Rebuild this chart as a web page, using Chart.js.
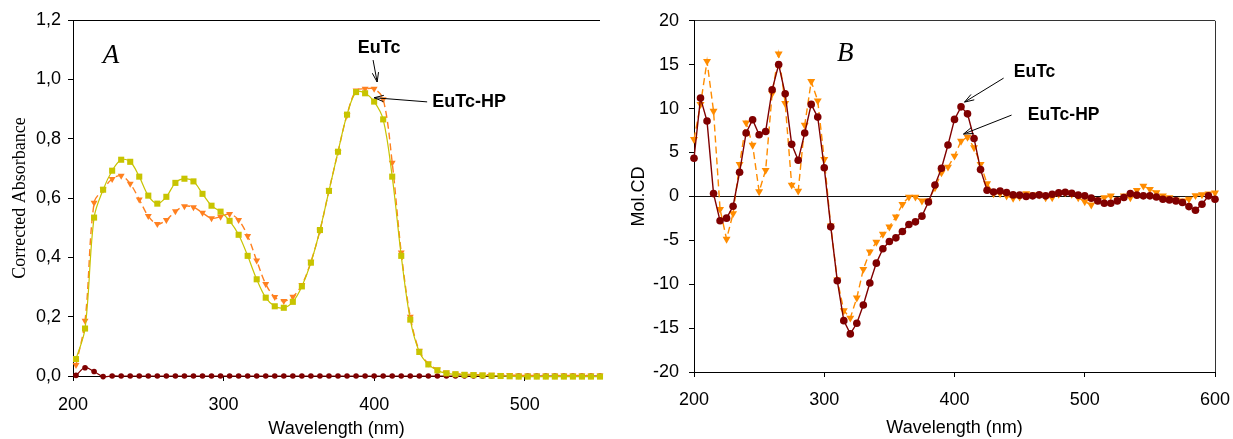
<!DOCTYPE html>
<html><head><meta charset="utf-8">
<script src="https://cdn.jsdelivr.net/npm/chart.js@4.4.1/dist/chart.umd.min.js"></script>
<style>
html,body{margin:0;padding:0;background:#fff;overflow:hidden}
#wrap{position:relative;width:1233px;height:439px;background:#fff}
canvas{position:absolute;top:0}
</style></head><body>
<div id="wrap">
<canvas id="cA" width="615" height="439" style="left:0"></canvas>
<canvas id="cB" width="618" height="439" style="left:615px"></canvas>
</div>
<script>
// ---------- Panel A : absorbance ----------
const wavelengthA = [202,208,214,220,226,232,238,244,250,256,262,268,274,280,286,292,298,304,310,316,322,328,334,340,346,352,358,364,370,376,382,388,394,400,406,412,418,424,430,436,442,448,454,460,466,472,478,484,490,496,502,508,514,520,526,532,538,544,550];
const absEuTcHP = [0.057,0.160,0.534,0.628,0.692,0.729,0.722,0.672,0.608,0.581,0.604,0.651,0.665,0.656,0.614,0.574,0.554,0.523,0.476,0.405,0.326,0.264,0.235,0.230,0.250,0.302,0.382,0.492,0.624,0.756,0.881,0.957,0.953,0.925,0.865,0.672,0.405,0.190,0.081,0.039,0.019,0.009,0.006,0.004,0.003,0.002,0.001,0.000,-0.001,-0.002,-0.002,-0.002,-0.002,-0.002,-0.002,-0.002,-0.002,-0.002,-0.002];
const absEuTc = [0.037,0.186,0.584,0.629,0.664,0.675,0.648,0.595,0.539,0.512,0.526,0.555,0.572,0.569,0.550,0.532,0.537,0.546,0.526,0.472,0.389,0.310,0.266,0.253,0.267,0.307,0.385,0.490,0.625,0.755,0.880,0.962,0.968,0.968,0.933,0.719,0.416,0.200,0.085,0.042,0.022,0.012,0.008,0.006,0.005,0.004,0.004,0.003,0.003,0.002,0.002,0.002,0.002,0.002,0.002,0.002,0.002,0.002,0.002];
const absBlank = [0.002,0.028,0.015,-0.002,0,0,0,0,0,0,0,0,0,0,0,0,0,0,0,0,0,0,0,0,0,0,0,0,0,0,0,0,0,0,0,0,0,0,0,0,0,0,0,0,0,0,0,0,0,0,0,0,0,0,0,0,0,0,0];
const xRangeA = [200, 550], xStepA = 100;
const yRangeA = [0, 1.2], yStepA = 0.2;

// ---------- Panel B : molar CD ----------
const wavelengthB = [200,205,210,215,220,225,230,235,240,245,250,255,260,265,270,275,280,285,290,295,300,305,310,315,320,325,330,335,340,345,350,355,360,365,370,375,380,385,390,395,400,405,410,415,420,425,430,435,440,445,450,455,460,465,470,475,480,485,490,495,500,505,510,515,520,525,530,535,540,545,550,555,560,565,570,575,580,585,590,595,600];
const cdEuTc = [4.34,11.2,8.58,0.32,-2.78,-2.48,-1.12,2.75,7.22,8.73,7.02,7.4,12.14,15.02,11.68,5.93,4.11,7.22,10.48,9.03,3.27,-3.47,-9.6,-14.15,-15.66,-14.45,-12.37,-9.87,-7.6,-5.97,-5.13,-4.72,-4.0,-3.2,-2.9,-2.25,-0.63,1.3,3.2,5.85,8.77,10.2,9.4,6.6,3.05,0.7,0.5,0.62,0.43,0.17,0.14,0.0,0.06,0.17,0.06,0.25,0.4,0.47,0.36,0.14,0.06,-0.2,-0.51,-0.78,-0.78,-0.51,-0.13,0.32,0.14,0.06,0.06,-0.06,-0.32,-0.4,-0.51,-0.7,-1.16,-1.57,-0.89,0.06,-0.32];
const cdEuTcHP = [6.5,10.48,15.4,9.72,-1.46,-4.86,-1.95,3.66,8.39,5.85,0.55,2.98,11.72,16.23,10.6,1.3,0.62,8.12,13.1,10.9,4.22,-3.35,-9.5,-13.0,-13.85,-11.55,-8.3,-6.3,-5.2,-4.3,-3.47,-2.33,-0.89,-0.06,-0.06,-0.51,-0.5,1.0,2.7,3.35,4.6,6.3,6.76,5.55,3.66,1.45,0.32,0.32,0.06,-0.2,-0.06,0.32,0.17,0.17,-0.13,-0.13,0.25,0.43,0.25,-0.13,-0.59,-0.97,-0.4,-0.13,0.06,-0.4,0.06,-0.13,0.7,1.19,0.82,0.43,0.06,-0.13,-0.4,-0.5,-0.3,0.1,0.2,0.3,0.4];
const xRangeB = [200, 600], xStepB = 100;
const yRangeB = [-20, 20], yStepB = 5;

// ---------- annotations (data coordinates) ----------
const notesA = {
  texts: [
    {t:'A', x:225.2, y:1.079, font:'italic 27px "Liberation Serif"'},
    {t:'EuTc', x:403.3, y:1.105, font:'bold 18px "Liberation Sans"'},
    {t:'EuTc-HP', x:463.1, y:0.923, font:'bold 18px "Liberation Sans"'}
  ],
  arrows: [
    [399.3,1.065,402.0,0.991],
    [435.2,0.924,400.0,0.938]
  ]
};
const notesB = {
  texts: [
    {t:'B', x:316.2, y:16.2, font:'italic 27px "Liberation Serif"'},
    {t:'EuTc', x:461.5, y:14.15, font:'bold 17.5px "Liberation Sans"'},
    {t:'EuTc-HP', x:483.8, y:9.26, font:'bold 17.5px "Liberation Sans"'}
  ],
  arrows: [
    [437.7,13.47,407.7,10.74],
    [443.8,9.26,406.9,7.1]
  ]
};

Chart.defaults.font.family = '"Liberation Sans", Arial, sans-serif';
Chart.defaults.color = '#000';

function drawArrow(ctx, x1, y1, x2, y2) {
  const a = Math.atan2(y2 - y1, x2 - x1), L = 10, w = 0.32;
  ctx.beginPath();
  ctx.moveTo(x1, y1); ctx.lineTo(x2, y2);
  ctx.moveTo(x2 - L * Math.cos(a - w), y2 - L * Math.sin(a - w));
  ctx.lineTo(x2, y2);
  ctx.lineTo(x2 - L * Math.cos(a + w), y2 - L * Math.sin(a + w));
  ctx.stroke();
}
function notesPlugin(notes) {
  return {
    id: 'notes',
    afterDatasetsDraw(chart) {
      const {ctx, scales: {x, y}} = chart;
      ctx.save();
      ctx.fillStyle = '#000'; ctx.strokeStyle = '#000'; ctx.lineWidth = 1;
      ctx.textAlign = 'center'; ctx.textBaseline = 'middle';
      notes.texts.forEach(n => {
        ctx.font = n.font;
        ctx.fillText(n.t, x.getPixelForValue(n.x), y.getPixelForValue(n.y));
      });
      notes.arrows.forEach(a => drawArrow(ctx,
        x.getPixelForValue(a[0]), y.getPixelForValue(a[1]),
        x.getPixelForValue(a[2]), y.getPixelForValue(a[3])));
      ctx.restore();
    }
  };
}
const pts = (xs, ys) => xs.map((v, i) => ({x: v, y: ys[i]}));
const near = (a, b) => Math.abs(a - b) < 1e-6;
const tickFont = {size: 18, family: '"Liberation Sans", Arial, sans-serif'};

// ---------- Chart A ----------
new Chart(document.getElementById('cA'), {
  type: 'line',
  data: {
    datasets: [
      {label: 'EuTc-HP', data: pts(wavelengthA, absEuTcHP), borderColor: '#C8C400', backgroundColor: '#C8C400',
       borderWidth: 1.2, pointStyle: 'rect', pointRadius: 4.3, pointBorderWidth: 0, tension: 0.35, clip: false},
      {label: 'EuTc', data: pts(wavelengthA, absEuTc), borderColor: '#FF8020', backgroundColor: '#FF8020',
       borderWidth: 1.4, borderDash: [7, 4], pointStyle: 'triangle', rotation: 180, pointRadius: 4, pointBorderWidth: 0, tension: 0.35, clip: false},
      {label: 'blank', data: pts(wavelengthA, absBlank), borderColor: '#800000', backgroundColor: '#800000',
       borderWidth: 1.2, pointStyle: 'circle', pointRadius: 2.8, pointBorderWidth: 0, tension: 0.35, clip: false}
    ]
  },
  options: {
    responsive: false, animation: false, events: [],
    layout: {padding: {left: 0, top: 20, right: 15, bottom: 0}},
    plugins: {legend: {display: false}, tooltip: {enabled: false}},
    scales: {
      x: {
        type: 'linear', min: xRangeA[0], max: xRangeA[1],
        ticks: {stepSize: xStepA, font: tickFont, color: '#000', padding: 13, maxRotation: 0},
        afterBuildTicks: s => { s.ticks = s.ticks.filter(t => t.value % xStepA === 0); },
        grid: {drawOnChartArea: false, color: '#000', tickLength: 5},
        border: {color: '#000', width: 1},
        title: {display: true, text: 'Wavelength (nm)', font: {size: 18}, color: '#000', padding: {top: 0, bottom: -1}},
        afterFit: s => { s.height = 63; s.paddingLeft = 0; s.paddingRight = 0; }
      },
      y: {
        min: yRangeA[0], max: yRangeA[1],
        ticks: {stepSize: yStepA, font: tickFont, color: '#000', padding: 7,
                callback: v => v.toFixed(1).replace('.', ',')},
        grid: {drawOnChartArea: true, color: c => near(c.tick.value, yRangeA[1]) ? '#000' : 'rgba(0,0,0,0)', tickColor: '#000', tickLength: 5},
        border: {color: '#000', width: 1},
        title: {display: true, text: 'Corrected Absorbance', font: {size: 18, family: '"Liberation Serif", "Times New Roman", serif'}, color: '#000', padding: {top: 9, bottom: 0}},
        afterFit: s => { s.width = 73; }
      }
    }
  },
  plugins: [notesPlugin(notesA)]
});

// ---------- Chart B ----------
new Chart(document.getElementById('cB'), {
  type: 'line',
  data: {
    datasets: [
      {label: 'EuTc', data: pts(wavelengthB, cdEuTc), borderColor: '#800000', backgroundColor: '#800000',
       borderWidth: 1.4, pointStyle: 'circle', pointRadius: 3.8, pointBorderWidth: 0, tension: 0, clip: false},
      {label: 'EuTc-HP', data: pts(wavelengthB, cdEuTcHP), borderColor: '#FF8C00', backgroundColor: '#FF8C00',
       borderWidth: 1.4, borderDash: [7, 4], pointStyle: 'triangle', rotation: 180, pointRadius: 4.6, pointBorderWidth: 0, tension: 0, clip: false}
    ]
  },
  options: {
    responsive: false, animation: false, events: [],
    layout: {padding: {left: 0, top: 20, right: 18, bottom: 0}},
    plugins: {legend: {display: false}, tooltip: {enabled: false}},
    scales: {
      x: {
        type: 'linear', min: xRangeB[0], max: xRangeB[1],
        ticks: {stepSize: xStepB, font: tickFont, color: '#000', padding: 12, maxRotation: 0},
        grid: {drawOnChartArea: true, color: c => near(c.tick.value, xRangeB[1]) ? '#333' : 'rgba(0,0,0,0)', tickColor: '#000', tickLength: 5},
        border: {color: '#000', width: 1},
        title: {display: true, text: 'Wavelength (nm)', font: {size: 18}, color: '#000', padding: {top: 0, bottom: 0}},
        afterFit: s => { s.height = 67; s.paddingLeft = 0; s.paddingRight = 0; }
      },
      y: {
        min: yRangeB[0], max: yRangeB[1],
        ticks: {stepSize: yStepB, font: tickFont, color: '#000', padding: 10},
        grid: {drawOnChartArea: true,
               color: c => near(c.tick.value, 0) ? '#111' : (near(c.tick.value, yRangeB[1]) ? '#333' : 'rgba(0,0,0,0)'),
               tickColor: '#000', tickLength: 5},
        border: {color: '#000', width: 1},
        title: {display: true, text: 'Mol.CD', font: {size: 18}, color: '#000', padding: {top: 13, bottom: 0}},
        afterFit: s => { s.width = 79; }
      }
    }
  },
  plugins: [notesPlugin(notesB)]
});
</script>
</body></html>
